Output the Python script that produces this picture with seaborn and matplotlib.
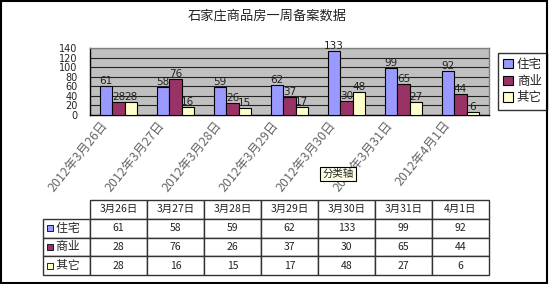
import matplotlib
matplotlib.use('Agg')
import matplotlib.pyplot as plt
from matplotlib.patches import Rectangle
from matplotlib.transforms import ScaledTranslation
import seaborn as sns
import pandas as pd

# 数据
dates_short = ['3月26日', '3月27日', '3月28日', '3月29日', '3月30日', '3月31日', '4月1日']
dates_full = ['2012年3月26日', '2012年3月27日', '2012年3月28日', '2012年3月29日',
              '2012年3月30日', '2012年3月31日', '2012年4月1日']
series_names = ['住宅', '商业', '其它']
residential = [61, 58, 59, 62, 133, 99, 92]
commercial = [28, 76, 26, 37, 30, 65, 44]
other = [28, 16, 15, 17, 48, 27, 6]
colors = ['#9999ff', '#993366', '#ffffcc']

values = [residential, commercial, other]
df = pd.DataFrame({
    '日期': dates_full * 3,
    '类型': [n for n in series_names for _ in dates_full],
    '套数': residential + commercial + other,
})

sns.set_theme(style='white')
plt.rcParams['font.family'] = ['Noto Sans CJK SC', 'DejaVu Sans']

W, H = 550, 284
fig = plt.figure(figsize=(W / 100, H / 100), dpi=100)
fig.patch.set_facecolor('white')

def fx(px):
    return px / W

def fy(py):
    return 1 - py / H

# 图表区
ax = fig.add_axes([fx(90), fy(115), fx(489) - fx(90), fy(48) - fy(115)])
ax.set_facecolor('#c0c0c0')
sns.barplot(data=df, x='日期', y='套数', hue='类型', palette=colors,
            width=0.65, gap=0, edgecolor='black', linewidth=0.8,
            saturation=1, ax=ax, zorder=3)
ax.set_ylim(0, 140)
ax.set_yticks(range(0, 141, 20))
ax.set_xlim(-0.5, len(dates_full) - 0.5)
ax.yaxis.grid(True, color='#222222', linewidth=0.8, zorder=0)
ax.set_axisbelow(True)
ax.set_xlabel('')
ax.set_ylabel('')
for c in ax.containers:
    ax.bar_label(c, fontsize=7.5, padding=0, color='#222222', family='DejaVu Sans')

ax.tick_params(axis='y', length=0, pad=9, labelsize=7, labelcolor='#222222')
ax.tick_params(axis='x', which='major', length=0, pad=2, labelsize=9, labelcolor='#666666')
ax.set_xticks([i - 0.5 for i in range(len(dates_full) + 1)], minor=True)
ax.tick_params(axis='x', which='minor', direction='in', length=3, color='black', width=0.8)
for lab in ax.get_yticklabels():
    lab.set_family('DejaVu Sans')
for lab in ax.get_xticklabels():
    lab.set_rotation(51)
    lab.set_ha('right')
    lab.set_va('center')
    lab.set_rotation_mode('anchor')
    lab.set_transform(lab.get_transform() + ScaledTranslation(-0.13, -0.05, fig.dpi_scale_trans))

for s in ['left', 'bottom']:
    ax.spines[s].set_color('black')
    ax.spines[s].set_linewidth(1)
for s in ['top', 'right']:
    ax.spines[s].set_color('#808080')
    ax.spines[s].set_linewidth(1)

leg = ax.legend(loc='upper left', bbox_to_anchor=(fx(498), fy(53)),
                bbox_transform=fig.transFigure, frameon=True, fancybox=False,
                edgecolor='black', fontsize=9, handlelength=0.8, handleheight=0.8,
                handletextpad=0.3, borderpad=0.4, labelspacing=0.3, borderaxespad=0)
leg.get_frame().set_linewidth(1)
for t in leg.get_texts():
    t.set_color('#222222')

fig.text(fx(267), fy(15.5), '石家庄商品房一周备案数据', ha='center', va='center',
         fontsize=9.5, color='#222222')

# 数据表
tax = fig.add_axes([fx(43), fy(275), fx(489) - fx(43), fy(200) - fy(275)])
tax.axis('off')
cell_text = [[''] + dates_short]
for name, vals in zip(series_names, values):
    cell_text.append(['     ' + name] + [str(v) for v in vals])
col_w = [47 / 446] + [57 / 446] * len(dates_short)
tbl = tax.table(cellText=cell_text, colWidths=col_w, cellLoc='center', bbox=[0, 0, 1, 1])
tbl.auto_set_font_size(False)
for (r, c), cell in tbl.get_celld().items():
    cell.set_edgecolor('#333333')
    cell.set_linewidth(1)
    cell.get_text().set_color('#222222')
    cell.get_text().set_fontsize(7.5)
    if r == 0 and c == 0:
        cell.visible_edges = ''
    if c == 0 and r > 0:
        cell.get_text().set_ha('left')
        cell.get_text().set_fontsize(8.5)
        cell.PAD = 0.0
for i, col in enumerate(colors):
    tax.scatter([(49.5 - 43) / 446], [1 - (i + 1.5) / 4], marker='s', s=22,
                color=col, edgecolor='black', linewidth=0.6, zorder=5, clip_on=False)
tax.set_xlim(0, 1)
tax.set_ylim(0, 1)

# 提示框
fig.text(fx(338), fy(174), '分类轴', ha='center', va='center', fontsize=7.5,
         color='#222222',
         bbox=dict(boxstyle='square,pad=0.2', facecolor='#ffffe8', edgecolor='black', linewidth=0.8))

# 外框
fig.patches.append(Rectangle((0.002, 0.004), 0.992, 0.994, transform=fig.transFigure,
                             fill=False, edgecolor='black', linewidth=1.5))

fig.savefig('out.png', dpi=100)
